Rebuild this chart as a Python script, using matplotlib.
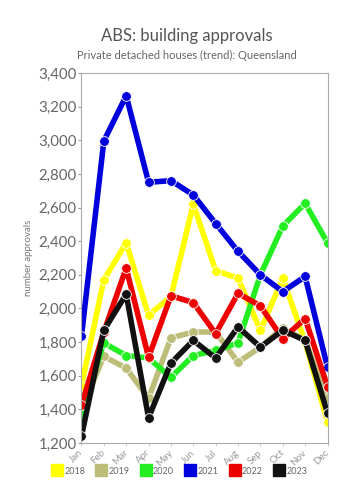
import matplotlib.pyplot as plt
from matplotlib.lines import Line2D

plt.rcParams['font.family'] = ['Lato', 'DejaVu Sans']

months = ['Jan', 'Feb', 'Mar', 'Apr', 'May', 'Jun', 'Jul', 'Aug', 'Sep', 'Oct', 'Nov', 'Dec']
years = ['2018', '2019', '2020', '2021', '2022', '2023']
colors = ['#ffff00', '#bdbd7a', '#22ee22', '#0000dd', '#ee0000', '#111111']

v2018 = [1540, 2170, 2390, 1960, 2070, 2620, 2225, 2180, 1870, 2180, 1800, 1325]
v2019 = [1400, 1715, 1645, 1465, 1825, 1860, 1860, 1680, 1770, 1885, 1810, 1465]
v2020 = [1375, 1795, 1720, 1705, 1590, 1720, 1750, 1795, 2200, 2490, 2625, 2390]
v2021 = [1835, 2995, 3265, 2750, 2760, 2675, 2505, 2340, 2200, 2100, 2190, 1650]
v2022 = [1425, 1860, 2240, 1710, 2075, 2035, 1850, 2090, 2015, 1820, 1940, 1535]
v2023 = [1240, 1870, 2085, 1350, 1675, 1810, 1705, 1890, 1770, 1870, 1810, 1378]
series = [v2018, v2019, v2020, v2021, v2022, v2023]

fig = plt.figure(figsize=(3.6, 5), dpi=100)
ax = fig.add_axes([0.225, 0.114, 0.686, 0.74])

x = range(len(months))
for vals, c in zip(series, colors):
    ax.plot(x, vals, color=c, lw=4, marker='o', markersize=7,
            markeredgecolor='white', markeredgewidth=0.6, solid_capstyle='round')

ax.set_ylim(1200, 3400)
ax.set_xlim(-0.02, 11.02)
ax.set_yticks(range(1200, 3401, 200))
ax.set_yticklabels([f'{v:,}' for v in range(1200, 3401, 200)], fontsize=10.8, color='#666666')
ax.set_xticks(list(x))
ax.set_xticklabels(months, rotation=45, fontsize=7, color='#999999', ha='right',
                   va='center', rotation_mode='anchor')
ax.tick_params(axis='y', length=2, color='#999999', pad=1)
ax.tick_params(axis='x', length=2, color='#cccccc', pad=4)
for s in ax.spines.values():
    s.set_color('#aaaaaa')
    s.set_linewidth(0.8)
ax.set_ylabel('number approvals', fontsize=7, color='#777777', labelpad=4)

fig.text(0.52, 0.928, 'ABS: building approvals', ha='center', va='center',
         fontsize=12, color='#555555')
fig.text(0.52, 0.889, 'Private detached houses (trend): Queensland', ha='center',
         va='center', fontsize=8, color='#666666')

handles = [Line2D([], [], ls='none', marker='s', markersize=8, color=c) for c in colors]
fig.legend(handles, years, loc='center', bbox_to_anchor=(0.5, 0.058), ncol=6,
           frameon=False, fontsize=6.5, labelcolor='#666666', handletextpad=0.3,
           columnspacing=1.3, handlelength=1.0)

fig.savefig('out.png', dpi=100)
